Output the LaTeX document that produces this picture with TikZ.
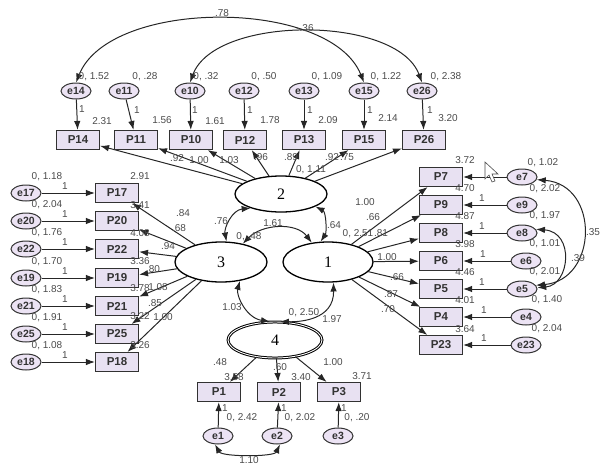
\documentclass[tikz,border=0pt]{standalone}
\usepackage{fontspec}
\setmainfont{Liberation Sans}
\newfontfamily\latfont{Liberation Serif}
\usetikzlibrary{arrows.meta,shapes.geometric}
\definecolor{boxfill}{RGB}{232,225,242}
\definecolor{efill}{RGB}{236,227,244}
\definecolor{lblc}{RGB}{75,75,75}
\definecolor{edgec}{RGB}{50,50,50}
\newcommand\nl[4]{\node[num] (#1) at (#2,#3) {#4};}
\begin{document}
\begin{tikzpicture}[x=1pt,y=-1pt,
  obs/.style={draw=edgec, line width=1.1pt, fill=boxfill, minimum width=43pt, minimum height=19pt, inner sep=0pt, font=\fontsize{11.5}{11.5}\selectfont\bfseries, text=black!80},
  err/.style={ellipse, draw=edgec, line width=1pt, fill=efill, minimum width=30pt, minimum height=16pt, inner sep=0pt, font=\fontsize{10.5}{10.5}\selectfont\bfseries, text=black!80},
  lat/.style={ellipse, draw=black, line width=1.3pt, fill=white, inner sep=0pt, font=\latfont\fontsize{16}{16}\selectfont},
  num/.style={font=\fontsize{10}{10}\selectfont, text=lblc, inner sep=0pt},
  tip/.tip={Latex[length=9pt,width=6.5pt]},
  pth/.style={-tip, line width=1pt, draw=black!85},
  cov/.style={tip-tip, line width=1pt, draw=black!85},
]
\useasboundingbox (0,0) rectangle (602,466);

% latent variables
\node[lat, minimum width=92pt, minimum height=36pt] (f2) at (281,194) {2};
\node[lat, minimum width=92pt, minimum height=40pt] (f3) at (221,262) {3};
\node[lat, minimum width=90pt, minimum height=40pt] (f1) at (328,262) {1};
\node[lat, minimum width=94pt, minimum height=36pt, double=white, double distance=0.9pt, line width=1pt] (f4) at (275,340) {4};

% top row
\foreach \n/\ex/\bx in {14/76/78, 11/124/136, 10/190/191, 12/244/245, 13/304/304, 15/364/364, 26/422/424}{
  \node[err] (e\n) at (\ex,91) {e\n};
  \node[obs] (P\n) at (\bx,140) {P\n};
  \draw[pth] (e\n) -- (P\n);
  \draw[pth] (f2) -- (P\n);
}
% left column
\foreach \n/\y in {17/193, 20/221, 22/249, 19/278, 21/306, 25/334, 18/362}{
  \node[err] (e\n) at (26,\y) {e\n};
  \node[obs] (P\n) at (117,\y) {P\n};
  \draw[pth] (e\n) -- (P\n);
  \draw[pth] (f3) -- (P\n);
}
% right column
\foreach \n/\y/\ex in {7/177/522, 9/205/522, 8/233/522, 6/261/526, 5/289/522, 4/317/526, 23/345/526}{
  \node[err] (e\n) at (\ex,\y) {e\n};
  \node[obs] (P\n) at (441,\y) {P\n};
  \draw[pth] (e\n) -- (P\n);
  \draw[pth] (f1) -- (P\n);
}
% bottom row
\foreach \n/\bx/\ex in {1/219/218, 2/279/277, 3/339/338}{
  \node[err] (e\n) at (\ex,436) {e\n};
  \node[obs] (P\n) at (\bx,392) {P\n};
  \draw[pth] (e\n) -- (P\n);
  \draw[pth] (f4) -- (P\n);
}

% covariances
\draw[cov] (e14.north) .. controls (110,-2) and (330,-2) .. (e15.north);
\draw[cov] (e10.north) .. controls (215,15) and (397,15) .. (e26.north);
\draw[cov] (f3.75) .. controls (224,228) and (232,210) .. (f2.205);
\draw[cov] (f2.340) .. controls (326,212) and (327,232) .. (f1.110);
\draw[cov] (f3.40) .. controls (262,224) and (296,222) .. (f1.130);
\draw[cov] (f3.315) .. controls (236,295) and (246,318) .. (f4.105);
\draw[cov] (f4.75) .. controls (300,322) and (334,320) .. (f1.285);
\draw[cov] (e7.350) .. controls (600,185) and (598,280) .. (e5.15);
\draw[cov] (e8.15) .. controls (575,232) and (570,285) .. (e5.5);
\draw[cov] (e1.250) .. controls (222,457) and (274,457) .. (e2.290);

% mouse cursor
\draw[fill=white, draw=black!70, line width=0.6pt] (485,162) -- (485,179) -- (489,175) -- (492,182) -- (495,181) -- (492,174) -- (498,174) -- cycle;

% top labels
\nl{v14}{94}{77}{0, 1.52}\nl{v11}{145}{77}{0, .28}\nl{v10}{206}{77}{0, .32}
\nl{v12}{264}{77}{0, .50}\nl{v13}{327}{77}{0, 1.09}\nl{v15}{386}{77}{0, 1.22}
\nl{v26}{446}{77}{0, 2.38}
\nl{o14}{82}{109}{1}\nl{o11}{137}{110}{1}\nl{o10}{195}{110}{1}\nl{o12}{250}{110}{1}
\nl{o13}{310}{110}{1}\nl{o15}{370}{110}{1}\nl{o26}{430}{110}{1}
\nl{i14}{102}{121}{2.31}\nl{i11}{162}{120}{1.56}\nl{i10}{215}{121}{1.61}
\nl{i12}{270}{120}{1.78}\nl{i13}{328}{120}{2.09}\nl{i15}{388}{118}{2.14}
\nl{i26}{448}{118}{3.20}
\nl{w14}{177}{158}{.92}\nl{w11}{199}{160}{1.00}\nl{w10}{229}{160}{1.03}
\nl{w12}{261}{157}{.96}\nl{w13}{291}{157}{.89}\nl{w15}{332}{157}{.92}
\nl{w26}{347}{157}{.75}
% left labels
\nl{v17}{47}{177}{0, 1.18}\nl{v20}{47}{205}{0, 2.04}\nl{v22}{47}{233}{0, 1.76}
\nl{v19}{47}{262}{0, 1.70}\nl{v21}{47}{290}{0, 1.83}\nl{v25}{47}{318}{0, 1.91}
\nl{v18}{47}{346}{0, 1.08}
\nl{o17}{65}{186}{1}\nl{o20}{65}{214}{1}\nl{o22}{65}{242}{1}\nl{o19}{65}{271}{1}
\nl{o21}{65}{299}{1}\nl{o25}{65}{327}{1}\nl{o18}{65}{355}{1}
\nl{i17}{140}{176}{2.91}\nl{i20}{140}{205}{3.41}\nl{i22}{140}{233}{4.08}
\nl{i19}{140}{261}{3.36}\nl{i21}{140}{288}{3.78}\nl{i25}{140}{316}{3.22}
\nl{i18}{140}{345}{3.26}
\nl{w17}{183}{213}{.84}\nl{w20}{179}{228}{.68}\nl{w22}{168}{246}{.94}
\nl{w19}{153}{269}{.80}\nl{w21}{158}{287}{1.08}\nl{w25}{155}{303}{.85}
\nl{w18}{163}{317}{1.00}
% right labels
\nl{v7}{543}{163}{0, 1.02}\nl{v9}{545}{189}{0, 2.02}\nl{v8}{545}{216}{0, 1.97}
\nl{v6}{545}{244}{0, 1.01}\nl{v5}{545}{272}{0, 2.01}\nl{v4}{547}{300}{0, 1.40}
\nl{v23}{547}{329}{0, 2.04}
\nl{o9}{482}{198}{1}\nl{o8}{482}{226}{1}\nl{o6}{483}{254}{1}\nl{o5}{482}{282}{1}
\nl{o4}{484}{310}{1}\nl{o23}{484}{338}{1}
\nl{i7}{465}{160}{3.72}\nl{i9}{465}{188}{4.70}\nl{i8}{465}{216}{4.87}
\nl{i6}{465}{244}{3.98}\nl{i5}{465}{272}{4.46}\nl{i4}{465}{300}{4.01}
\nl{i23}{465}{329}{3.64}
\nl{w7}{365}{202}{1.00}\nl{w9}{373}{217}{.66}\nl{w8}{381}{233}{.81}
\nl{w6}{387}{257}{1.00}\nl{w5}{397}{277}{.66}\nl{w4}{391}{294}{.87}
\nl{w23}{388}{309}{.70}
% bottom labels
\nl{w1}{220}{362}{.48}\nl{i1}{234}{377}{3.58}\nl{w2}{280}{367}{.60}
\nl{i2}{301}{377}{3.40}\nl{w3}{333}{362}{1.00}\nl{i3}{362}{376}{3.71}
\nl{o1}{225}{408}{1}\nl{o2}{284}{408}{1}\nl{o3}{344}{408}{1}
\nl{v1}{242}{418}{0, 2.42}\nl{v2}{300}{418}{0, 2.02}\nl{v3}{357}{418}{0, .20}
% covariance and factor labels
\nl{c1}{222}{13}{.78}\nl{c2}{305}{28}{-.36}\nl{c3}{221}{221}{.76}
\nl{c4}{273}{223}{1.61}\nl{c5}{334}{225}{.64}\nl{c6}{232}{307}{1.03}
\nl{c7}{332}{319}{1.97}\nl{c8}{593}{232}{.35}\nl{c9}{578}{258}{.39}
\nl{c10}{249}{460}{1.10}
\nl{vf2}{311}{170}{0, 1.11}\nl{vf3}{249}{237}{0, .48}
\nl{vf1}{358}{234}{0, 2.51}\nl{vf4}{304}{313}{0, 2.50}
\end{tikzpicture}
\end{document}
